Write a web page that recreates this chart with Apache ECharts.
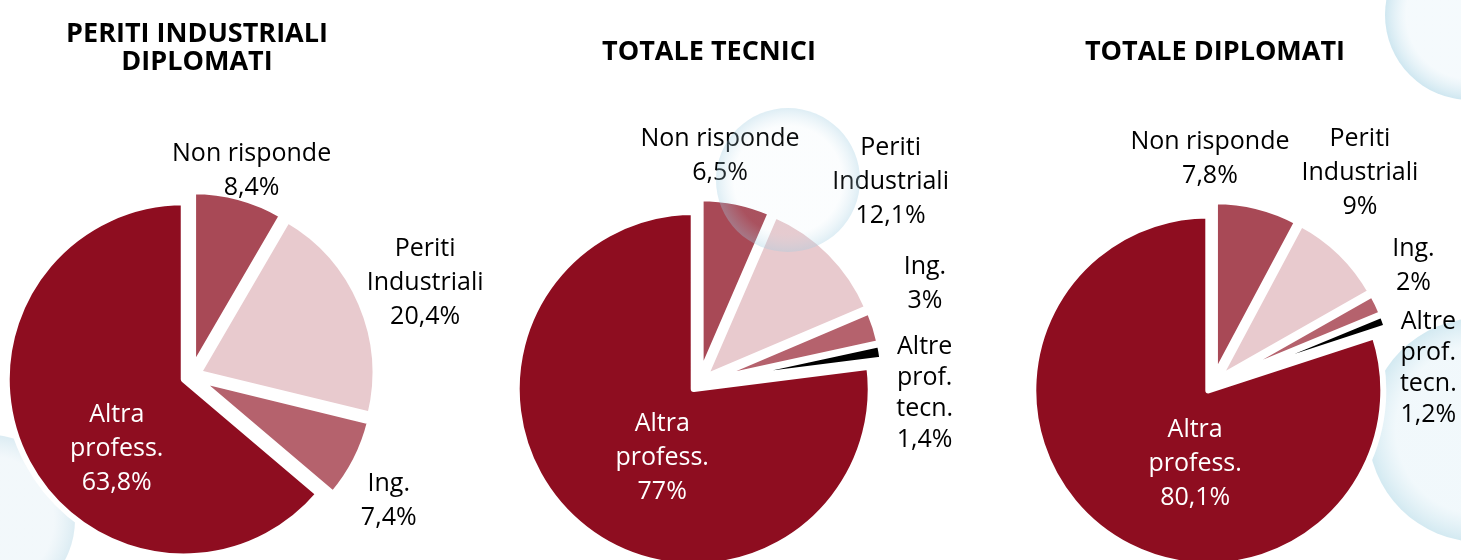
<!DOCTYPE html>
<html>
<head>
<meta charset="utf-8">
<title>Periti industriali - professione</title>
<script src="https://cdn.jsdelivr.net/npm/echarts@6/dist/echarts.min.js"></script>
<style>
  html, body { margin: 0; padding: 0; background: #fff; }
  #chart { width: 1461px; height: 560px; }
</style>
</head>
<body>
<div id="chart"></div>
<script>
// categorie (a capo come nelle etichette originali)
const categories = ['Non risponde', 'Periti\nIndustriali', 'Ing.', 'Altre\nprof.\ntecn.', 'Altra\nprofess.']
const titles = ['PERITI INDUSTRIALI\nDIPLOMATI', 'TOTALE TECNICI', 'TOTALE DIPLOMATI']

// valori %, null = categoria assente
const peritiDiplomati = [8.4, 20.4, 7.4, null, 63.8]
const totaleTecnici = [6.5, 12.1, 3, 1.4, 77]
const totaleDiplomati = [7.8, 9, 2, 1.2, 80.1]

const colors = ['#A84956', '#E8CACE', '#B5626D', '#000000', '#8E0D20']

// layout: centro, raggio, lunghezza radiale etichette e piccoli spostamenti [dx, dy]
const layouts = [
  { center: [191, 376], radius: 177, len: [32, 77, 56, 0, 0], nudge: [[4, 4], [-7, 9], [-17, 15], [0, 0], [16, 31]] },
  { center: [699, 383], radius: 177, len: [52, 102, 71, 48, 0], nudge: [[-27, 5], [-12, 1], [-18, -22], [-4, 50], [29, 0]] },
  { center: [1213, 384], radius: 175, len: [52, 85, 60, 39, 0], nudge: [[-60, 3], [-40, -19], [-18, -12], [7, 61], [40, 0]] }
]

const fontFamily = '"Open Sans", Roboto, sans-serif'

function fmt(v) {
  return String(v).replace('.', ',') + '%'
}

function buildData(values, lay) {
  const out = []
  values.forEach((v, i) => {
    if (v === null) return
    const big = i === categories.length - 1
    const label = big
      ? { position: 'inside', color: '#fff' }
      : { position: 'outside', color: '#000' }
    if (i === 3) label.lineHeight = 31
    out.push({
      name: categories[i],
      value: v,
      catIndex: i,
      selected: true,
      itemStyle: { color: colors[i] },
      label: label,
      labelLine: { show: false, length: lay.len[i], length2: 0 }
    })
  })
  return out
}

// bolle decorative sullo sfondo
function bubble(cx, cy, r, inner, outer, z) {
  return {
    type: 'circle',
    shape: { cx: cx, cy: cy, r: r },
    silent: true,
    z: z,
    style: {
      fill: new echarts.graphic.RadialGradient(0.5, 0.5, 0.5, [
        { offset: 0, color: inner },
        { offset: 0.75, color: inner },
        { offset: 1, color: outer }
      ])
    }
  }
}

const chart = echarts.init(document.getElementById('chart'), null, { renderer: 'canvas' })

const seriesValues = [peritiDiplomati, totaleTecnici, totaleDiplomati]

const option = {
  backgroundColor: '#ffffff',
  animation: false,
  graphic: [
    bubble(1480, 430, 112, 'rgba(232,244,249,0.6)', 'rgba(200,228,238,0.8)', -1),
    bubble(1470, 15, 85, 'rgba(235,245,250,0.5)', 'rgba(195,225,237,0.8)', -1),
    bubble(-10, 520, 85, 'rgba(230,241,247,0.5)', 'rgba(205,228,238,0.7)', -1),
    bubble(788, 180, 72, 'rgba(190,220,235,0.06)', 'rgba(160,205,225,0.35)', 10)
  ],
  title: titles.map((t, i) => ({
    text: t,
    left: [192, 704, 1210][i],
    top: i === 0 ? 15 : 33,
    textAlign: 'center',
    textStyle: {
      fontFamily: fontFamily,
      fontSize: 27,
      fontWeight: 'bold',
      lineHeight: 28,
      color: '#000'
    }
  })),
  series: seriesValues.map((vals, s) => {
    const lay = layouts[s]
    const data = buildData(vals, lay)
    return {
      type: 'pie',
      center: lay.center,
      radius: lay.radius,
      startAngle: 90,
      clockwise: true,
      selectedMode: 'multiple',
      selectedOffset: 8,
      avoidLabelOverlap: false,
      silent: true,
      itemStyle: { borderColor: '#fff', borderWidth: 6 },
      label: {
        show: true,
        fontFamily: fontFamily,
        fontSize: 25,
        lineHeight: 34,
        align: 'center',
        distanceToLabelLine: 0,
        formatter: p => p.name + '\n' + fmt(p.value)
      },
      labelLayout: p => {
        const idx = data[p.dataIndex].catIndex
        const n = lay.nudge[idx]
        return { align: 'center', dx: n[0], dy: n[1] }
      },
      data: data
    }
  })
}

chart.setOption(option)
</script>
</body>
</html>
